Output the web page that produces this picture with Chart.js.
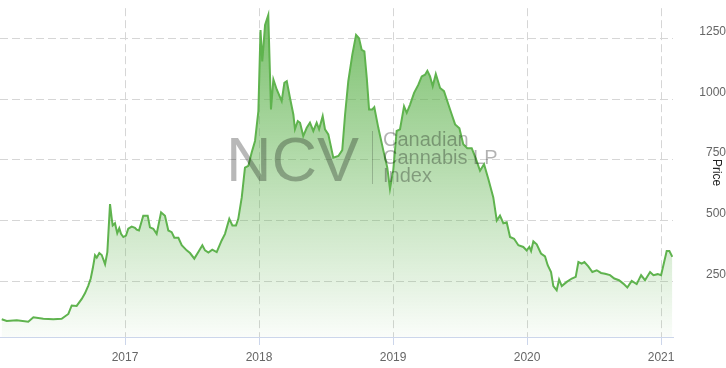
<!DOCTYPE html>
<html>
<head>
<meta charset="utf-8">
<script src="https://cdn.jsdelivr.net/npm/chart.js@4/dist/chart.umd.min.js"></script>
<style>
  html, body { margin: 0; padding: 0; background: #fff; }
  canvas { display: block; }
</style>
</head>
<body>
<canvas id="ncvChart" width="726" height="368"></canvas>
<script>
// time points as decimal years
const years = [
  2016.080, 2016.117, 2016.192, 2016.278, 2016.316, 2016.390, 2016.465, 2016.527, 2016.577, 2016.602,
  2016.639, 2016.677, 2016.701, 2016.726, 2016.744, 2016.759, 2016.776, 2016.789, 2016.808, 2016.826,
  2016.851, 2016.868, 2016.888, 2016.901, 2016.908, 2016.925, 2016.942, 2016.957, 2016.970, 2016.987,
  2017.007, 2017.024, 2017.050, 2017.074, 2017.087, 2017.104, 2017.136, 2017.169, 2017.186, 2017.211,
  2017.236, 2017.269, 2017.298, 2017.323, 2017.348, 2017.368, 2017.398, 2017.423, 2017.460, 2017.485,
  2017.517, 2017.547, 2017.577, 2017.597, 2017.622, 2017.651, 2017.684, 2017.721, 2017.746, 2017.778,
  2017.801, 2017.828, 2017.845, 2017.871, 2017.895, 2017.920, 2017.945, 2017.970, 2017.995, 2018.011,
  2018.024, 2018.045, 2018.069, 2018.089, 2018.107, 2018.132, 2018.169, 2018.189, 2018.207, 2018.231,
  2018.256, 2018.268, 2018.289, 2018.306, 2018.330, 2018.356, 2018.380, 2018.405, 2018.430, 2018.448,
  2018.475, 2018.492, 2018.517, 2018.554, 2018.592, 2018.621, 2018.642, 2018.666, 2018.696, 2018.724,
  2018.746, 2018.766, 2018.786, 2018.804, 2018.821, 2018.845, 2018.860, 2018.890, 2018.928, 2018.957,
  2018.977, 2019.002, 2019.027, 2019.052, 2019.082, 2019.102, 2019.127, 2019.157, 2019.189, 2019.214,
  2019.239, 2019.256, 2019.276, 2019.296, 2019.319, 2019.351, 2019.380, 2019.413, 2019.438, 2019.463,
  2019.495, 2019.524, 2019.554, 2019.587, 2019.619, 2019.649, 2019.679, 2019.711, 2019.748, 2019.774,
  2019.798, 2019.823, 2019.848, 2019.873, 2019.903, 2019.935, 2019.972, 2019.997, 2020.017, 2020.030,
  2020.047, 2020.072, 2020.104, 2020.134, 2020.154, 2020.179, 2020.196, 2020.221, 2020.239, 2020.259,
  2020.296, 2020.334, 2020.363, 2020.383, 2020.408, 2020.428, 2020.457, 2020.487, 2020.520, 2020.552,
  2020.582, 2020.619, 2020.651, 2020.686, 2020.718, 2020.748, 2020.781, 2020.818, 2020.851, 2020.880,
  2020.918, 2020.943, 2020.975, 2021.000, 2021.042, 2021.062, 2021.084
];

const prices = [
  93, 86, 89, 83, 101, 95, 93, 95, 115, 150,
  148, 177, 200, 232, 261, 302, 357, 347, 366, 358,
  320, 370, 568, 507, 480, 489, 448, 468, 445, 432,
  438, 466, 475, 470, 462, 459, 520, 520, 472, 466,
  445, 534, 520, 459, 452, 429, 429, 398, 377, 366,
  343, 370, 398, 377, 368, 380, 370, 418, 445, 507,
  480, 480, 507, 595, 718, 725, 780, 828, 951, 1285,
  1156, 1306, 1347, 958, 1081, 1040, 992, 1067, 1074, 1005,
  937, 876, 910, 903, 848, 882, 903, 869, 903, 876,
  930, 876, 855, 759, 766, 790, 937, 1074, 1183, 1265,
  1251, 1203, 1197, 1087, 958, 958, 967, 882, 787, 718,
  630, 710, 869, 876, 971, 944, 978, 1026, 1060, 1094,
  1101, 1117, 1094, 1053, 1104, 1046, 1033, 978, 937, 896,
  880, 814, 798, 798, 753, 705, 732, 671, 595, 500,
  520, 489, 493, 432, 425, 398, 391, 377, 391, 374,
  414, 402, 364, 352, 316, 288, 230, 213, 257, 230,
  247, 261, 268, 329, 322, 329, 311, 288, 295, 284,
  281, 275, 261, 254, 240, 224, 251, 238, 275, 254,
  288, 275, 279, 275, 374, 374, 350
];

const yearTicks = [2017, 2018, 2019, 2020, 2021];
const priceTicks = [250, 500, 750, 1000, 1250];

const lineColor = "#5fb34e";

// watermark: NCV | Canadian Cannabis LP Index
const watermark = {
    id: "watermark",
    afterDatasetsDraw(chart) {
        const c = chart.ctx;
        c.save();
        c.fillStyle = "rgba(0,0,0,0.28)";
        c.textBaseline = "alphabetic";
        c.textAlign = "left";
        c.font = "63px 'Liberation Sans', Arial, sans-serif";
        c.fillText("NCV", 226, 181);
        c.strokeStyle = "rgba(0,0,0,0.2)";
        c.lineWidth = 1;
        c.beginPath();
        c.moveTo(372.5, 131);
        c.lineTo(372.5, 184);
        c.stroke();
        c.fillStyle = "rgba(0,0,0,0.3)";
        c.font = "20px 'Liberation Sans', Arial, sans-serif";
        c.fillText("Canadian", 383, 146);
        c.fillText("Cannabis LP", 383, 164);
        c.fillText("Index", 383, 182);
        c.restore();
    }
};

const points = years.map((y, i) => ({ x: y, y: prices[i] }));

new Chart(document.getElementById("ncvChart").getContext("2d"), {
    type: "line",
    data: {
        datasets: [{
            label: "NCV",
            data: points,
            borderColor: lineColor,
            borderWidth: 2,
            pointRadius: 0,
            tension: 0,
            fill: "start",
            backgroundColor: function (ctx) {
                const area = ctx.chart.chartArea;
                if (!area) return "rgba(95,179,78,0.3)";
                const g = ctx.chart.ctx.createLinearGradient(0, area.top, 0, area.bottom);
                g.addColorStop(0, "rgba(95,179,78,0.85)");
                g.addColorStop(1, "rgba(95,179,78,0.03)");
                return g;
            }
        }]
    },
    options: {
        responsive: false,
        animation: false,
        layout: { padding: 0 },
        plugins: {
            legend: { display: false },
            tooltip: { enabled: false }
        },
        scales: {
            x: {
                type: "linear",
                min: 2016.067,
                max: 2021.089,
                afterBuildTicks: s => { s.ticks = yearTicks.map(v => ({ value: v })); },
                afterFit: s => { s.height = 31; },
                ticks: {
                    callback: v => String(v),
                    color: "#666",
                    padding: 5,
                    maxRotation: 0,
                    font: { family: "'Liberation Sans', Arial, sans-serif", size: 12 }
                },
                grid: {
                    color: "#d6d6d6",
                    tickColor: "#ccd6eb",
                    tickLength: 8
                },
                border: { display: true, color: "#ccd6eb", dash: [8, 4] }
            },
            y: {
                position: "right",
                min: 20,
                max: 1375,
                afterBuildTicks: s => { s.ticks = priceTicks.map(v => ({ value: v })); },
                afterFit: s => { s.width = 53; },
                ticks: {
                    callback: v => String(v),
                    color: "#666",
                    padding: 1,
                    crossAlign: "far",
                    labelOffset: -7,
                    font: { family: "'Liberation Sans', Arial, sans-serif", size: 12 }
                },
                grid: { color: "#d6d6d6", drawTicks: false },
                border: { display: false, dash: [8, 4] },
                title: {
                    display: true,
                    text: "Price",
                    color: "#222",
                    padding: 2,
                    font: { family: "'Liberation Sans', Arial, sans-serif", size: 12 }
                }
            }
        }
    },
    plugins: [watermark]
});
</script>
</body>
</html>
